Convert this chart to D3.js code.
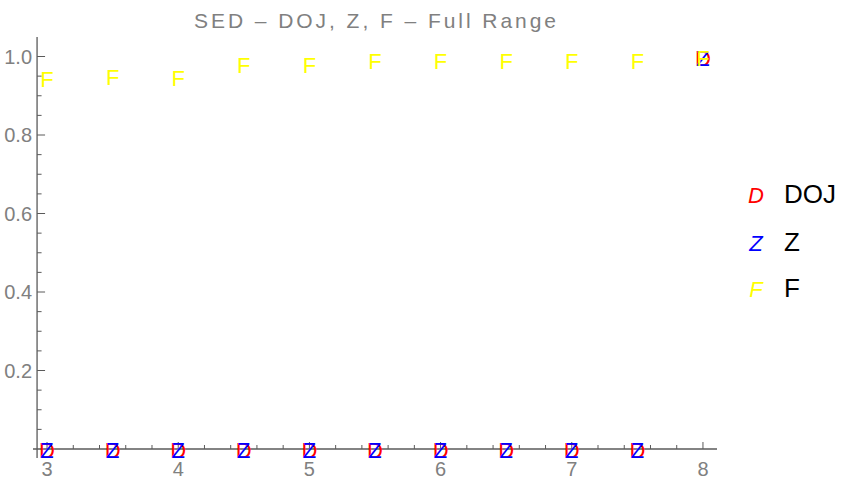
<!DOCTYPE html>
<html>
<head>
<meta charset="utf-8">
<script src="https://cdn.jsdelivr.net/npm/d3@7"></script>
<style>
  html, body { margin: 0; padding: 0; background: #fff; }
  svg { display: block; font-family: "Liberation Sans", Arial, sans-serif; }
</style>
</head>
<body>
<svg id="chart" width="850" height="487"></svg>
<script>
// ---- data ----
const xValues = [3, 3.5, 4, 4.5, 5, 5.5, 6, 6.5, 7, 7.5, 8];
const dojValues = [0, 0, 0, 0, 0, 0, 0, 0, 0, 0, 1.0];
const zValues   = [0, 0, 0, 0, 0, 0, 0, 0, 0, 0, 1.0];
const fValues   = [0.944, 0.950, 0.949, 0.980, 0.981, 0.991, 0.991, 0.990, 0.991, 0.991, 1.0];
const seriesNames = ["DOJ", "Z", "F"];
const seriesMarkers = ["D", "Z", "F"];
const seriesColors = ["#ff0000", "#0000ff", "#ffff00"];
const xTickLabels = [3, 4, 5, 6, 7, 8];
const yTickLabels = [0.2, 0.4, 0.6, 0.8, 1.0];
const titleText = "SED \u2013 DOJ, Z, F \u2013 Full Range";

const svg = d3.select("#chart");

const x = d3.scaleLinear().domain([2.893, 8.107]).range([33, 717]);
const y = d3.scaleLinear().domain([-0.0229, 1.0497]).range([458, 37]);

const axisColor = "#5a5a5a";
const labelColor = "#808080";

// ---- x axis ----
const xAxisY = y(0);
const xAxis = svg.append("g");
xAxis.append("line")
  .attr("x1", x(2.893)).attr("x2", x(8.107))
  .attr("y1", xAxisY).attr("y2", xAxisY)
  .attr("stroke", axisColor).attr("stroke-width", 1.3);
const xMinor = d3.range(30, 81, 2).map(d => d / 10).filter(d => !Number.isInteger(d));
xAxis.selectAll(".xminor").data(xMinor).join("line")
  .attr("x1", d => x(d)).attr("x2", d => x(d))
  .attr("y1", xAxisY).attr("y2", xAxisY - 4)
  .attr("stroke", axisColor).attr("stroke-width", 1);
xAxis.selectAll(".xmajor").data(xTickLabels).join("line")
  .attr("x1", d => x(d)).attr("x2", d => x(d))
  .attr("y1", xAxisY).attr("y2", xAxisY - 7)
  .attr("stroke", axisColor).attr("stroke-width", 1);
xAxis.selectAll(".xlab").data(xTickLabels).join("text")
  .attr("x", d => x(d)).attr("y", xAxisY + 27)
  .attr("text-anchor", "middle")
  .attr("font-size", 20).attr("fill", labelColor)
  .text(d => d);

// ---- y axis ----
const yAxisX = x(2.924);
const yAxis = svg.append("g");
yAxis.append("line")
  .attr("x1", yAxisX).attr("x2", yAxisX)
  .attr("y1", y(-0.0229)).attr("y2", y(1.0497))
  .attr("stroke", axisColor).attr("stroke-width", 1.3);
const yMinor = d3.range(0, 21).map(d => d * 0.05).filter(d => Math.round(d * 100) % 20 !== 0);
yAxis.selectAll(".yminor").data(yMinor).join("line")
  .attr("x1", yAxisX).attr("x2", yAxisX + 4.5)
  .attr("y1", d => y(d)).attr("y2", d => y(d))
  .attr("stroke", axisColor).attr("stroke-width", 1);
yAxis.selectAll(".ymajor").data(yTickLabels).join("line")
  .attr("x1", yAxisX).attr("x2", yAxisX + 8)
  .attr("y1", d => y(d)).attr("y2", d => y(d))
  .attr("stroke", axisColor).attr("stroke-width", 1);
yAxis.selectAll(".ylab").data(yTickLabels).join("text")
  .attr("x", yAxisX - 5).attr("y", d => y(d) + 7)
  .attr("text-anchor", "end")
  .attr("font-size", 20).attr("fill", labelColor)
  .text(d => d3.format(".1f")(d));

// ---- title ----
svg.append("text")
  .attr("x", 375).attr("y", 28)
  .attr("text-anchor", "middle")
  .attr("font-size", 21).attr("fill", labelColor)
  .attr("textLength", 362).attr("lengthAdjust", "spacing")
  .text(titleText);

// ---- markers ----
const allSeries = [dojValues, zValues, fValues];
allSeries.forEach((vals, i) => {
  const pts = xValues.map((xv, j) => ({ x: xv, y: vals[j] }));
  svg.append("g").selectAll("text").data(pts).join("text")
    .attr("x", d => x(d.x))
    .attr("y", d => y(d.y) + 9)
    .attr("text-anchor", "middle")
    .attr("font-size", 22)
    .attr("fill", seriesColors[i])
    .text(seriesMarkers[i]);
});

// ---- legend ----
const legendBaselines = [203, 251, 297];
const legend = svg.append("g");
seriesNames.forEach((name, i) => {
  legend.append("text")
    .attr("x", 756).attr("y", legendBaselines[i])
    .attr("text-anchor", "middle")
    .attr("font-size", 22).attr("font-style", "italic")
    .attr("fill", seriesColors[i])
    .text(seriesMarkers[i]);
  legend.append("text")
    .attr("x", 784).attr("y", legendBaselines[i])
    .attr("font-size", 26).attr("fill", "#000")
    .text(name);
});
</script>
</body>
</html>
